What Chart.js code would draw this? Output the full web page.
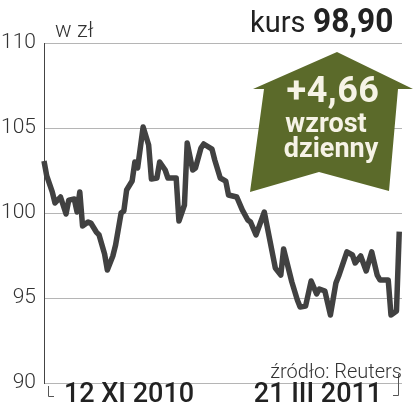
<!DOCTYPE html>
<html>
<head>
<meta charset="utf-8">
<script src="https://cdn.jsdelivr.net/npm/chart.js@4"></script>
<style>
html, body { margin: 0; padding: 0; background: #fff; }
#wrap { position: relative; width: 414px; height: 419px; overflow: hidden; font-family: Roboto, sans-serif; color: #222; }
#chart, #deco { position: absolute; left: 0; top: 0; }
.t { position: absolute; white-space: nowrap; line-height: 1; }
</style>
</head>
<body>
<div id="wrap">
  <canvas id="chart" width="414" height="419"></canvas>
  <svg id="deco" width="414" height="419">
    <polygon points="337,52 413,89 398,89 389,191 319,172 250,192 264,89 253,89" fill="#5b6a2a"/>
    <path d="M48.5,386 V396.5 H54" stroke="#555" fill="none"/>
    <path d="M398.5,374 V395.5 H393" stroke="#555" fill="none"/>
  </svg>
  <div class="t" style="left:55px;top:19px;font-size:22px;font-weight:300;color:#333">w zł</div>
  <div class="t" style="left:250px;top:8px;font-size:29px;font-weight:400">kurs</div>
  <div class="t" style="left:313px;top:3px;font-size:34px;font-weight:700;transform:scaleX(0.93);transform-origin:left top">98,90</div>
  <div class="t" style="left:263px;width:140px;text-align:center;top:72px;font-size:36px;font-weight:700;color:#f6f3e6;letter-spacing:0.5px">+4,66</div>
  <div class="t" style="left:256px;width:140px;text-align:center;top:110px;font-size:27px;font-weight:700;color:#f6f3e6">wzrost</div>
  <div class="t" style="left:261px;width:140px;text-align:center;top:135px;font-size:27px;font-weight:700;color:#f6f3e6">dzienny</div>
  <div class="t" style="right:12px;top:361px;font-size:20px;font-weight:300;color:#333">źródło: Reuters</div>
  <div class="t" style="left:49px;width:160px;text-align:center;top:380px;font-size:27px;font-weight:500">12 XI 2010</div>
  <div class="t" style="left:238px;width:160px;text-align:center;top:380px;font-size:27px;font-weight:500">21 III 2011</div>
</div>
<script>
// days since 12 XI 2010 and closing price (zł)
const days = [0, 1, 3, 4, 6, 8, 9, 11, 12, 13, 14, 16, 17, 19, 20, 22, 23, 25, 26, 28,
  29, 30, 32, 33, 34, 36, 38, 39, 41, 42, 44, 45, 48, 49, 51, 52, 54, 55, 57, 58,
  61, 62, 64, 66, 67, 70, 72, 74, 75, 77, 80, 82, 84, 86, 87, 90, 92, 93, 95, 97,
  99, 100, 102, 104, 106, 107, 110, 112, 113, 115, 117, 119, 121, 122, 125, 126, 128, 129];
const prices = [103.06, 102.18, 101.24, 100.59, 100.94, 99.94, 100.76, 100.82, 100.06, 101.24,
  99.24, 99.47, 99.41, 98.88, 98.71, 97.59, 96.65, 97.47, 98.12, 100.0,
  100.12, 101.35, 101.88, 103.0, 102.65, 105.06, 104.0, 102.0, 102.06, 103.0,
  102.53, 102.06, 102.06, 99.53, 100.47, 104.12, 102.53, 102.65, 103.82, 104.06,
  103.76, 103.12, 102.06, 101.88, 101.06, 100.94, 100.18, 99.59, 99.47, 98.71,
  100.06, 98.41, 96.76, 96.35, 97.88, 95.94, 94.88, 94.47, 94.53, 96.0,
  95.24, 95.53, 95.41, 94.0, 95.88, 96.29, 97.71, 97.53, 97.06, 97.47,
  96.59, 97.71, 96.35, 96.06, 96.06, 94.0, 94.24, 98.90];
const yTicks = [90, 95, 100, 105, 110];

const points = days.map((d, i) => ({ x: d, y: prices[i] }));

const ctx = document.getElementById('chart').getContext('2d');
window.priceChart = new Chart(ctx, {
    type: 'line',
    data: {
        datasets: [{
            label: 'kurs',
            data: points,
            borderColor: '#414141',
            borderWidth: 5.5,
            borderJoinStyle: 'round',
            pointRadius: 0,
            tension: 0,
            clip: false
        }]
    },
    options: {
        responsive: false,
        devicePixelRatio: 1,
        animation: false,
        layout: {
            padding: { left: 0, top: 43, right: 12, bottom: 36 }
        },
        plugins: {
            legend: { display: false },
            tooltip: { enabled: false }
        },
        scales: {
            x: {
                type: 'linear',
                display: false,
                min: 0,
                max: 130
            },
            y: {
                min: 90,
                max: 110,
                afterFit: scale => { scale.width = 44; },
                afterBuildTicks: scale => { scale.ticks = yTicks.map(v => ({ value: v })); },
                border: { display: true, color: '#444', width: 1 },
                grid: { color: '#b5b5b5', lineWidth: 1, drawTicks: false },
                ticks: {
                    padding: 8,
                    color: '#333',
                    font: { family: 'Roboto', size: 21, weight: '300' }
                }
            }
        }
    }
});
</script>
</body>
</html>
